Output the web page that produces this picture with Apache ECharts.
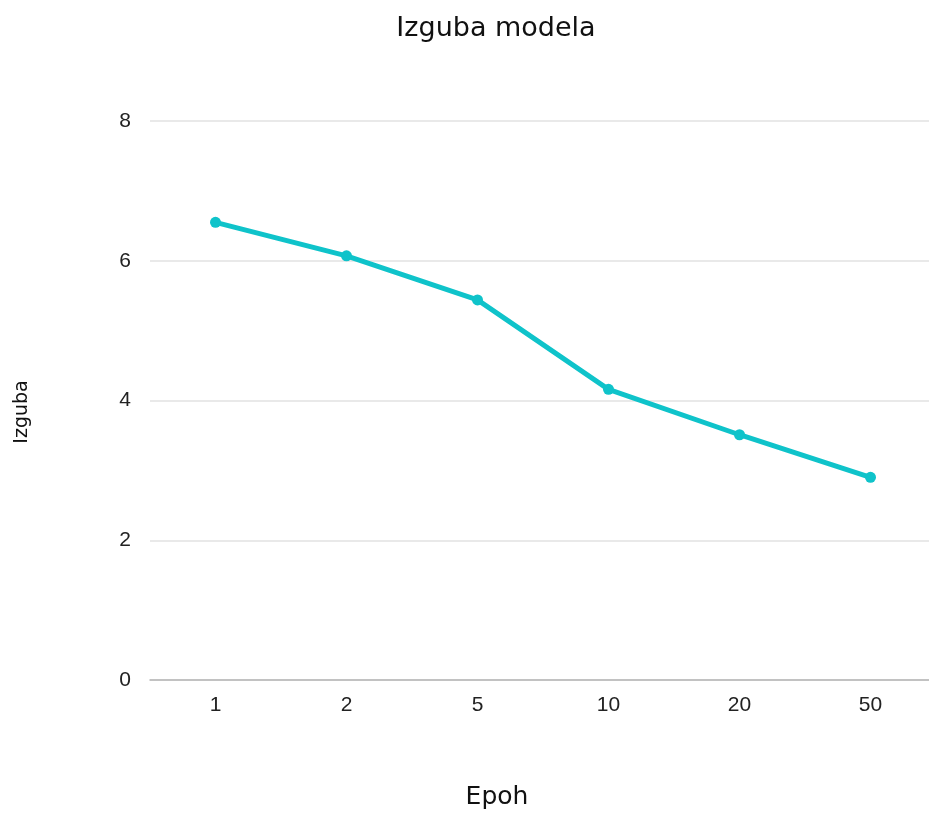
<!DOCTYPE html>
<html><head><meta charset="utf-8">
<script src="https://cdn.jsdelivr.net/npm/echarts@6/dist/echarts.min.js"></script>
<style>html,body{margin:0;padding:0;background:#fff}#c{width:929px;height:814px}</style>
</head><body><div id="c"></div>
<script>
const categories = ['1', '2', '5', '10', '20', '50'];
const lossValues = [6.55, 6.07, 5.44, 4.16, 3.51, 2.9];
const yTicks = [0, 2, 4, 6, 8];
const chartTitle = 'Izguba modela';
const xName = 'Epoh';
const yName = 'Izguba';
const chart = echarts.init(document.getElementById('c'));
chart.setOption({
  animation: false,
  graphic: [
    { type: 'text', x: 496, y: 29, style: { text: chartTitle, fontFamily: 'DejaVu Sans', fontSize: 27, fill: '#111', textAlign: 'center', textVerticalAlign: 'middle' } },
    { type: 'text', x: 497, y: 797, style: { text: xName, fontFamily: 'DejaVu Sans', fontSize: 25, fill: '#111', textAlign: 'center', textVerticalAlign: 'middle' } },
    { type: 'text', x: 22, y: 412, rotation: Math.PI / 2, style: { text: yName, fontFamily: 'DejaVu Sans', fontSize: 19, fill: '#111', textAlign: 'center', textVerticalAlign: 'middle' } }
  ],
  grid: { left: 150, top: 121, width: 786, height: 559, outerBoundsMode: 'none', containLabel: false },
  xAxis: { type: 'category', data: categories, boundaryGap: true,
    axisLine: { lineStyle: { color: '#b5b5b5', width: 1.5 } },
    axisTick: { show: false },
    axisLabel: { fontFamily: 'Liberation Sans, Arial, sans-serif', fontSize: 21, color: '#222', margin: 15 } },
  yAxis: { type: 'value', min: 0, max: 8, interval: 2,
    axisLine: { show: false }, axisTick: { show: false },
    splitLine: { lineStyle: { color: '#e2e2e2', width: 1.5 } },
    axisLabel: { fontFamily: 'Liberation Sans, Arial, sans-serif', fontSize: 21, color: '#222', margin: 19,
      formatter: v => yTicks.includes(v) ? String(v) : '' } },
  series: [{ type: 'line', data: lossValues, symbol: 'circle', symbolSize: 11,
    lineStyle: { color: '#0fc3ca', width: 5 }, itemStyle: { color: '#0fc3ca' } }]
});
</script></body></html>
